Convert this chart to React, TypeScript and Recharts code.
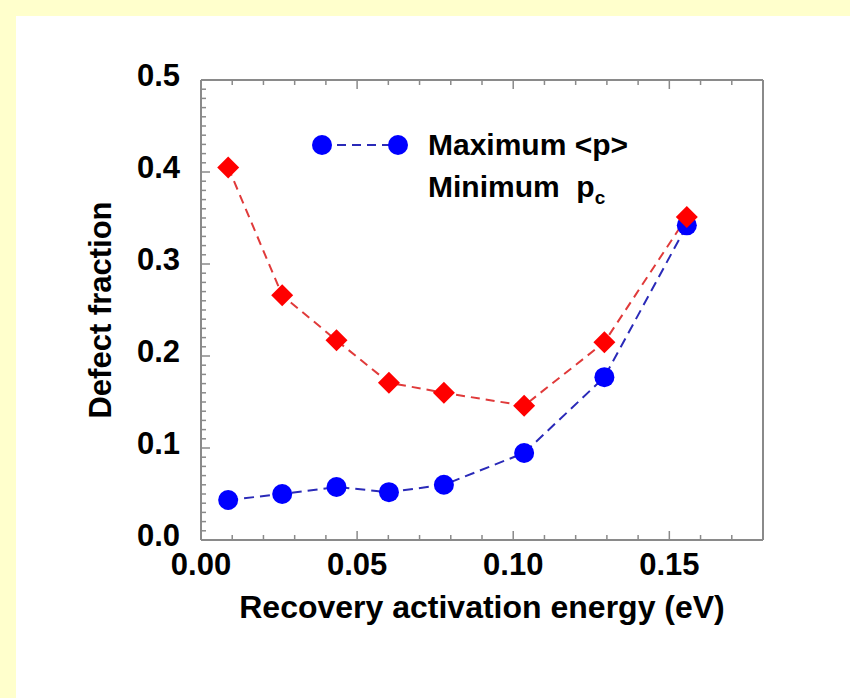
import React from 'react'
import { Legend, Line, LineChart, XAxis, YAxis } from 'recharts'

// recovery activation energy (eV)
const energies = [0.0087, 0.026, 0.0434, 0.0602, 0.0778, 0.1035, 0.1292, 0.1556]
// Maximum <p>
const maxP = [0.0435, 0.05, 0.0576, 0.052, 0.06, 0.0946, 0.177, 0.342]
// Minimum p_c
const minPc = [0.405, 0.266, 0.217, 0.171, 0.16, 0.146, 0.215, 0.351]

const xTicks = [0, 0.01, 0.02, 0.03, 0.04, 0.05, 0.06, 0.07, 0.08, 0.09, 0.1, 0.11, 0.12, 0.13, 0.14, 0.15, 0.16, 0.17, 0.18]
const xMajor = [0, 0.05, 0.1, 0.15]
const yTicks = [
  0, 0.01, 0.02, 0.03, 0.04, 0.05, 0.06, 0.07, 0.08, 0.09,
  0.1, 0.11, 0.12, 0.13, 0.14, 0.15, 0.16, 0.17, 0.18, 0.19,
  0.2, 0.21, 0.22, 0.23, 0.24, 0.25, 0.26, 0.27, 0.28, 0.29,
  0.3, 0.31, 0.32, 0.33, 0.34, 0.35, 0.36, 0.37, 0.38, 0.39,
  0.4, 0.41, 0.42, 0.43, 0.44, 0.45, 0.46, 0.47, 0.48, 0.49, 0.5,
]
const yMajor = [0, 0.1, 0.2, 0.3, 0.4, 0.5]

const data = energies.map((e, i) => ({ e, maxP: maxP[i], minPc: minPc[i] }))

const FONT = "'Liberation Sans', Arial, Helvetica, sans-serif"
const FRAME = '#8a8a8a'

const isMajor = (v: number, list: number[]) => list.some((m) => Math.abs(m - v) < 1e-9)

function XTick({ x, y, payload, side }: any) {
  const v = payload.value as number
  const major = isMajor(v, xMajor)
  const len = major ? 9 : 5
  const dir = side === 'bottom' ? -1 : 1
  return (
    <g>
      <line x1={x} y1={y} x2={x} y2={y + dir * len} stroke={FRAME} strokeWidth={1.5} />
      {side === 'bottom' && major && (
        <text x={x} y={y + 12} dy="0.75em" textAnchor="middle" fontFamily={FONT} fontWeight="bold" fontSize={31} fill="#000">
          {v.toFixed(2)}
        </text>
      )}
    </g>
  )
}

function YTick({ x, y, payload, side }: any) {
  const v = payload.value as number
  const major = isMajor(v, yMajor)
  const len = major ? 9 : 5
  const dir = side === 'left' ? 1 : -1
  return (
    <g>
      <line x1={x} y1={y} x2={x + dir * len} y2={y} stroke={FRAME} strokeWidth={1.5} />
      {side === 'left' && major && (
        <text x={x - 21} y={y - 5} dy="0.36em" textAnchor="end" fontFamily={FONT} fontWeight="bold" fontSize={31} fill="#000">
          {v.toFixed(1)}
        </text>
      )}
    </g>
  )
}

function Diamond({ cx, cy }: any) {
  if (cx == null || cy == null) return null
  return <path d={`M${cx},${cy - 11}L${cx + 11},${cy}L${cx},${cy + 11}L${cx - 11},${cy}Z`} fill="#ff0000" />
}

function Circle({ cx, cy }: any) {
  if (cx == null || cy == null) return null
  return <circle cx={cx} cy={cy} r={10} fill="#0000ff" />
}

function LegendBox() {
  const text: React.CSSProperties = {
    position: 'absolute',
    left: 122,
    fontFamily: FONT,
    fontWeight: 'bold',
    fontSize: 30,
    lineHeight: '34px',
    color: '#000',
    whiteSpace: 'nowrap',
  }
  return (
    <div style={{ position: 'relative', width: 380, height: 90 }}>
      <svg width={110} height={40} style={{ position: 'absolute', left: 0, top: 0 }}>
        <line x1={16} y1={20} x2={92} y2={20} stroke="#2a2ab8" strokeWidth={2} strokeDasharray="9 6" />
        <circle cx={16} cy={20} r={10} fill="#0000ff" />
        <circle cx={92} cy={20} r={10} fill="#0000ff" />
      </svg>
      <div style={{ ...text, top: 3 }}>Maximum &lt;p&gt;</div>
      <div style={{ ...text, top: 45 }}>
        Minimum&nbsp; p<sub style={{ fontSize: 19, verticalAlign: '-7px' }}>c</sub>
      </div>
    </div>
  )
}

export default function App() {
  return (
    <div style={{ position: 'absolute', left: 0, top: 0, width: 850, height: 698, background: '#ffffcc' }}>
      <div style={{ position: 'absolute', left: 16, top: 16, width: 834, height: 682, background: '#fff' }}>
        <LineChart width={834} height={682} data={data} margin={{ top: 63, left: 184, right: 86, bottom: 157 }}>
          <XAxis
            dataKey="e"
            type="number"
            domain={[0, 0.18]}
            ticks={xTicks}
            interval={0}
            height={1}
            tickSize={0}
            tickMargin={0}
            tickLine={false}
            axisLine={{ stroke: FRAME, strokeWidth: 2 }}
            tick={(p: any) => <XTick {...p} side="bottom" />}
            label={{
              value: 'Recovery activation energy (eV)',
              position: 'bottom',
              offset: 54,
              style: { fontFamily: FONT, fontWeight: 'bold', fontSize: 32, fill: '#000' },
            }}
          />
          <XAxis
            xAxisId="top"
            orientation="top"
            dataKey="e"
            type="number"
            domain={[0, 0.18]}
            ticks={xTicks}
            interval={0}
            height={1}
            tickSize={0}
            tickMargin={0}
            tickLine={false}
            axisLine={{ stroke: FRAME, strokeWidth: 2 }}
            tick={(p: any) => <XTick {...p} side="top" />}
          />
          <YAxis
            type="number"
            domain={[0, 0.5]}
            ticks={yTicks}
            interval={0}
            width={1}
            tickSize={0}
            tickMargin={0}
            tickLine={false}
            axisLine={{ stroke: FRAME, strokeWidth: 2 }}
            tick={(p: any) => <YTick {...p} side="left" />}
            label={{
              value: 'Defect fraction',
              angle: -90,
              position: 'left',
              offset: 100,
              style: { fontFamily: FONT, fontWeight: 'bold', fontSize: 31, fill: '#000', textAnchor: 'middle' },
            }}
          />
          <YAxis
            yAxisId="right"
            orientation="right"
            type="number"
            domain={[0, 0.5]}
            ticks={yTicks}
            interval={0}
            width={1}
            tickSize={0}
            tickMargin={0}
            tickLine={false}
            axisLine={{ stroke: FRAME, strokeWidth: 2 }}
            tick={(p: any) => <YTick {...p} side="right" />}
          />
          <Legend
            layout="vertical"
            align="center"
            verticalAlign="middle"
            content={() => <LegendBox />}
            wrapperStyle={{ left: 290, top: 109, width: 380, height: 90 }}
          />
          <Line
            dataKey="maxP"
            type="linear"
            stroke="#2a2ab8"
            strokeWidth={2}
            strokeDasharray="10 6"
            dot={<Circle />}
            activeDot={false}
            isAnimationActive={false}
          />
          <Line
            dataKey="minPc"
            type="linear"
            stroke="#e03a3a"
            strokeWidth={2}
            strokeDasharray="9 6"
            dot={<Diamond />}
            activeDot={false}
            isAnimationActive={false}
          />
        </LineChart>
      </div>
    </div>
  )
}
